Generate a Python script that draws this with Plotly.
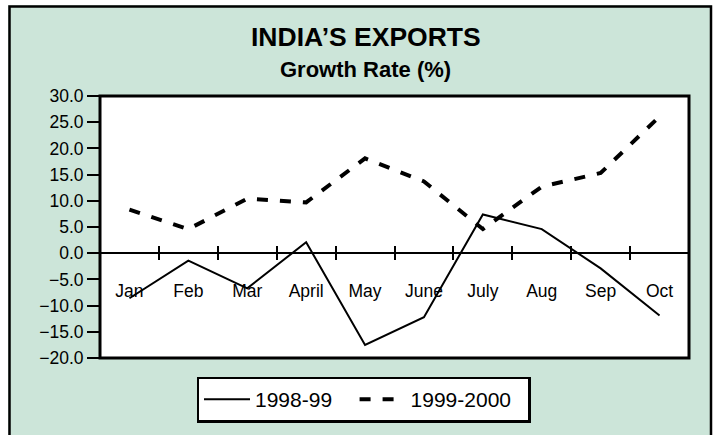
import plotly.graph_objects as go

months = ["Jan", "Feb", "Mar", "April", "May", "June", "July", "Aug", "Sep", "Oct"]
exports_1998_99 = [-8.6, -1.4, -6.7, 2.1, -17.5, -12.2, 7.4, 4.6, -2.9, -11.9]
exports_1999_2000 = [8.3, 4.6, 10.4, 9.7, 18.1, 13.7, 4.6, 12.7, 15.3, 26.1]
y_ticks = [-20, -15, -10, -5, 0, 5, 10, 15, 20, 25, 30]
series_names = ["1998-99", "1999-2000"]

W, H = 713, 435
ML, MR, MT, MB = 100, 24, 96, 77
PW, PH = W - ML - MR, H - MT - MB
GREEN = "rgb(204,229,217)"
FONT = "Liberation Sans, Arial, sans-serif"
NBSP = "\u00a0"


def px(x):
    return (x - ML) / PW


def py(y):
    return (H - MB - y) / PH


ymin, ymax = -20, 30
zero_pos = (0 - ymin) / (ymax - ymin)

fig = go.Figure()
fig.add_trace(go.Scatter(x=months, y=exports_1998_99, mode="lines",
                         name=series_names[0] + NBSP * 3,
                         line=dict(color="black", width=2)))
fig.add_trace(go.Scatter(x=months, y=exports_1999_2000, mode="lines",
                         name=series_names[1] + NBSP * 2,
                         line=dict(color="black", width=4, dash="11px,12px")))
# helper trace so the upper tick axis is drawn
fig.add_trace(go.Scatter(x=months, y=exports_1998_99, mode="lines", xaxis="x2",
                         line=dict(width=0, color="rgba(0,0,0,0)"), showlegend=False,
                         hoverinfo="skip"))

shapes = [
    # white margins outside the outer frame
    dict(type="rect", xref="paper", yref="paper", x0=px(-5), x1=px(8), y0=py(H + 5), y1=py(-5),
         fillcolor="white", line=dict(width=0), layer="above"),
    dict(type="rect", xref="paper", yref="paper", x0=px(-5), x1=px(W + 5), y0=py(5), y1=py(-5),
         fillcolor="white", line=dict(width=0), layer="above"),
    dict(type="rect", xref="paper", yref="paper", x0=px(712), x1=px(W + 5), y0=py(H + 5), y1=py(-5),
         fillcolor="white", line=dict(width=0), layer="above"),
    # outer frame
    dict(type="rect", xref="paper", yref="paper", x0=px(9.5), x1=px(711), y0=py(H + 20), y1=py(6.5),
         line=dict(color="black", width=2.5), layer="above"),
    # plot frame
    dict(type="rect", xref="paper", yref="paper", x0=0, x1=1, y0=0, y1=1,
         line=dict(color="black", width=3), layer="above"),
]

annotations = [
    dict(text="<b>INDIA’S EXPORTS</b>", xref="paper", yref="paper", x=px(366), y=py(37),
         xanchor="center", yanchor="middle", showarrow=False,
         font=dict(family=FONT, size=26.5, color="black")),
    dict(text="<b>Growth Rate (%)</b>", xref="paper", yref="paper", x=px(365), y=py(70),
         xanchor="center", yanchor="middle", showarrow=False,
         font=dict(family=FONT, size=22, color="black")),
]

fig.update_layout(
    width=W, height=H,
    margin=dict(l=ML, r=MR, t=MT, b=MB, pad=0, autoexpand=False),
    paper_bgcolor=GREEN, plot_bgcolor="white",
    font=dict(family=FONT, color="black"),
    showlegend=True,
    legend=dict(orientation="h", x=px(363.5), y=py(399.5), xanchor="center", yanchor="middle",
                bgcolor="white", bordercolor="black", borderwidth=2.5,
                font=dict(family=FONT, size=21, color="black"),
                itemwidth=46, tracegroupgap=0),
    xaxis=dict(type="category", categoryorder="array", categoryarray=months,
               range=[-0.5, len(months) - 0.5], anchor="free", position=zero_pos,
               automargin=False,
               showline=True, linecolor="black", linewidth=2,
               ticks="outside", ticklen=6, tickwidth=1.5, tickcolor="black",
               tickson="boundaries", showgrid=False, zeroline=False,
               ticklabelstandoff=22, tickfont=dict(family=FONT, size=17.5, color="black")),
    xaxis2=dict(type="category", categoryorder="array", categoryarray=months,
                matches="x", overlaying="x", anchor="free", position=zero_pos, side="top",
                automargin=False,
                showline=False, ticks="outside", ticklen=7, tickwidth=1.5, tickcolor="black",
                tickson="boundaries", showticklabels=False, showgrid=False, zeroline=False),
    yaxis=dict(range=[ymin, ymax], tickvals=y_ticks, tickformat=".1f",
               automargin=False,
               ticks="outside", ticklen=12, tickwidth=2, tickcolor="black",
               showline=False, showgrid=False, zeroline=False,
               tickfont=dict(family=FONT, size=17.5, color="black")),
    shapes=shapes,
    annotations=annotations,
)

fig.write_html("out.html", config={"displayModeBar": False},
               post_script="document.body.style.margin='0';document.body.style.padding='0';")
